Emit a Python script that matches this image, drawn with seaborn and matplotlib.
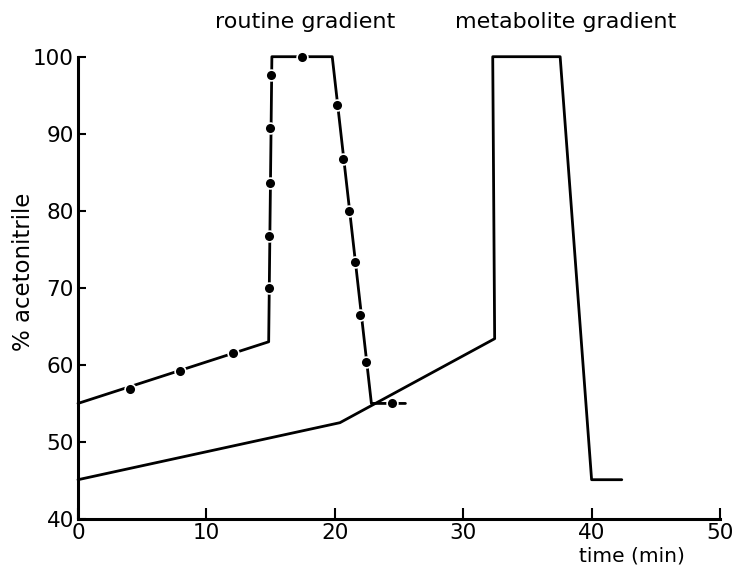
import matplotlib
matplotlib.use("Agg")
import matplotlib.pyplot as plt
import seaborn as sns
import pandas as pd

# Routine gradient (solid line) and its measured points
routine_t = [0, 14.85, 15.1, 19.8, 22.85, 25.5]
routine_y = [55, 63, 100, 100, 55, 55]
routine_pts_t = [4.05, 7.95, 12.05, 14.85, 14.9, 14.95, 14.95, 15.05, 17.45,
                 20.15, 20.65, 21.1, 21.6, 22.0, 22.45, 24.45]
routine_pts_y = [56.9, 59.2, 61.5, 70.0, 76.7, 83.6, 90.8, 97.6, 100,
                 93.7, 86.7, 80.0, 73.3, 66.5, 60.4, 55.0]

# Metabolite gradient (solid line)
metab_t = [0, 20.4, 32.45, 32.3, 37.55, 40.0, 42.35]
metab_y = [45.1, 52.5, 63.4, 100, 100, 45.1, 45.1]

x_ticks = [0, 10, 20, 30, 40, 50]
y_ticks = [40, 50, 60, 70, 80, 90, 100]

sns.set_theme(style="ticks")
plt.rcParams['font.family'] = ['DejaVu Sans']

fig = plt.figure(figsize=(7.36, 5.67), dpi=100)
ax = fig.add_axes([78/736, 1 - 519/567, (720 - 78)/736, (519 - 56.7)/567])

routine = pd.DataFrame({"t": routine_t, "y": routine_y})
metab = pd.DataFrame({"t": metab_t, "y": metab_y})
pts = pd.DataFrame({"t": routine_pts_t, "y": routine_pts_y})

sns.lineplot(data=routine, x="t", y="y", sort=False, estimator=None,
             color="black", linewidth=2.0, ax=ax, clip_on=False)
sns.lineplot(data=metab, x="t", y="y", sort=False, estimator=None,
             color="black", linewidth=2.0, ax=ax, clip_on=False)
sns.scatterplot(data=pts, x="t", y="y", color="black", s=60,
                edgecolor="white", linewidth=1.2, zorder=5, ax=ax,
                clip_on=False)

ax.set_xlim(0, 50)
ax.set_ylim(40, 100)
ax.set_xticks(x_ticks)
ax.set_yticks(y_ticks)
ax.set_xticklabels([str(v) for v in x_ticks])
ax.set_yticklabels([str(v) for v in y_ticks])
ax.tick_params(axis="x", direction="in", length=8, width=1.5, pad=3,
               labelsize=15.5, colors="black")
ax.tick_params(axis="y", direction="in", length=6, width=1.5, pad=3,
               labelsize=15.5, colors="black")
for s in ["top", "right"]:
    ax.spines[s].set_visible(False)
for s in ["left", "bottom"]:
    ax.spines[s].set_linewidth(2.2)
    ax.spines[s].set_color("black")
ax.set_xlabel("")
ax.set_ylabel("")
ax.margins(0)

fig.text(24/736, 1 - 272/567, "% acetonitrile", rotation=90, ha="center",
         va="center", fontsize=16.5, color="black")
fig.text(632/736, 1 - 565/567, "time (min)", ha="center", va="bottom",
         fontsize=14.5, color="black")
fig.text(305/736, 1 - 22/567, "routine gradient", ha="center", va="center",
         fontsize=16, color="black")
fig.text(566/736, 1 - 22/567, "metabolite gradient", ha="center",
         va="center", fontsize=16, color="black")

fig.savefig("out.png", dpi=100)
